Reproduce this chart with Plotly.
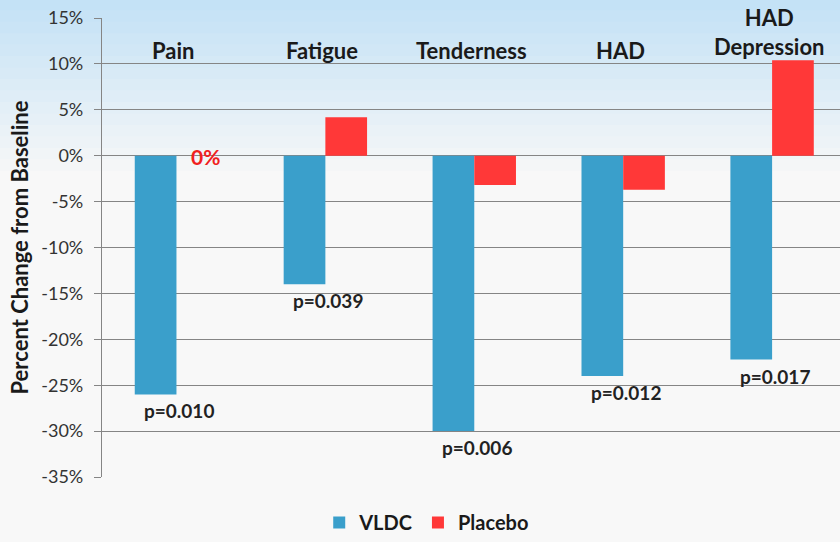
import plotly.graph_objects as go

categories = ["Pain", "Fatigue", "Tenderness", "HAD", "HAD Depression"]
cat_labels = ["Pain", "Fatigue", "Tenderness", "HAD", "HAD<br>Depression"]
vldc = [-26.0, -14.0, -30.0, -24.0, -22.2]
placebo = [0.0, 4.2, -3.2, -3.7, 10.4]
p_values = ["p=0.010", "p=0.039", "p=0.006", "p=0.012", "p=0.017"]
tick_vals = [15, 10, 5, 0, -5, -10, -15, -20, -25, -30, -35]
tick_text = ["15%", "10%", "5%", "0%", "-5%", "-10%", "-15%", "-20%", "-25%", "-30%", "-35%"]

BLUE = "#3A9FCB"
RED = "#FF3838"
FONT = "Lato"

fig = go.Figure()
fig.add_trace(go.Bar(name="<b>VLDC</b>", x=categories, y=vldc, marker=dict(color=BLUE, line=dict(width=0))))
fig.add_trace(go.Bar(name="<b>Placebo</b>", x=categories, y=placebo, marker=dict(color=RED, line=dict(width=0))))

annotations = []
# category labels at the top
for c, lab in zip(categories, cat_labels):
    yv = 13.5 if "<br>" in lab else 11.5
    annotations.append(dict(x=c, y=yv, text="<b>%s</b>" % lab, showarrow=False,
                            font=dict(family=FONT, size=22, color="#1a1a1a"),
                            xanchor="center", yanchor="middle", xshift=-3))
# p-value labels under the VLDC bars
for c, v, p in zip(categories, vldc, p_values):
    annotations.append(dict(x=c, y=v, text="<b>%s</b>" % p, showarrow=False,
                            font=dict(family=FONT, size=19, color="#222"),
                            xanchor="center", yanchor="top", yshift=-3, xshift=3))
# 0% label for placebo pain
annotations.append(dict(x=categories[0], y=placebo[0], text="<b>0%</b>", showarrow=False,
                        font=dict(family=FONT, size=21, color="#F02020"),
                        xanchor="center", yanchor="middle", xshift=29, yshift=-1))

# soft blue gradient band across the top of the page
shapes = []
n = 16
top_c = (196, 226, 246)
bot_c = (248, 248, 248)
y_top = 1.04
y_bot = 0.64
for i in range(n):
    t = i / (n - 1)
    col = tuple(int(top_c[k] + (bot_c[k] - top_c[k]) * t) for k in range(3))
    y0 = y_top - (y_top - y_bot) * (i + 1) / n
    y1 = y_top - (y_top - y_bot) * i / n
    shapes.append(dict(type="rect", xref="paper", yref="paper", x0=-0.2, x1=1.02,
                       y0=y0, y1=y1 + 0.002, fillcolor="rgb(%d,%d,%d)" % col,
                       line=dict(width=0), layer="below"))

fig.update_layout(
    width=840, height=542,
    margin=dict(l=102, r=0, t=18, b=64),
    paper_bgcolor="#F8F8F8",
    plot_bgcolor="rgba(0,0,0,0)",
    barmode="group",
    bargap=0.44,
    bargroupgap=0,
    font=dict(family=FONT, color="#333"),
    showlegend=True,
    legend=dict(orientation="h", x=0.44, y=-0.1, xanchor="center", yanchor="middle",
                font=dict(family=FONT, size=20, color="#1a1a1a"),
                bgcolor="rgba(0,0,0,0)", itemwidth=30, traceorder="normal"),
    annotations=annotations,
    shapes=shapes,
    xaxis=dict(range=[-0.5, 4.456], showticklabels=False, showgrid=False, zeroline=False,
               showline=False, ticks=""),
    yaxis=dict(range=[-35, 15], tickvals=tick_vals, ticktext=tick_text,
               showgrid=True, gridcolor="#858585", gridwidth=1.3,
               zeroline=False, showline=True, linecolor="#858585", linewidth=1.3,
               ticks="outside", ticklen=7, tickcolor="#858585", tickwidth=1.3,
               ticklabelstandoff=7,
               tickfont=dict(family=FONT, size=18, color="#333"),
               title=dict(text="<b>Percent Change from Baseline</b>", standoff=6,
                          font=dict(family=FONT, size=22, color="#1a1a1a"))),
)

fig.write_html("out.html", config={"displayModeBar": False},
               post_script="document.body.style.margin='0px';")
